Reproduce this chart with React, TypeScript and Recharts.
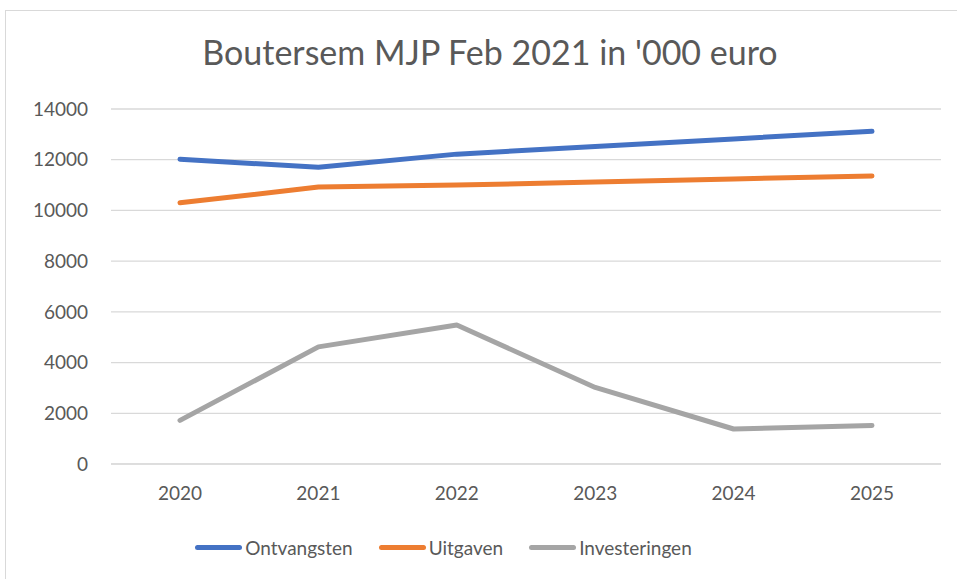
import React from "react";
import { LineChart, Line, XAxis, YAxis, CartesianGrid } from "recharts";

const years = ["2020", "2021", "2022", "2023", "2024", "2025"];
const ontvangsten = [12020, 11700, 12220, 12520, 12820, 13120];
const uitgaven = [10300, 10920, 11000, 11120, 11240, 11360];
const investeringen = [1720, 4620, 5480, 3020, 1380, 1520];
const yTicks = [0, 2000, 4000, 6000, 8000, 10000, 12000, 14000];
const title = "Boutersem MJP Feb 2021 in '000 euro";

const series = [
  { key: "Ontvangsten", values: ontvangsten, color: "#4472C4" },
  { key: "Uitgaven", values: uitgaven, color: "#ED7D31" },
  { key: "Investeringen", values: investeringen, color: "#A5A5A5" },
];

const data = years.map((y, i) => {
  const row: Record<string, any> = { year: y };
  series.forEach((s) => (row[s.key] = s.values[i]));
  return row;
});

const FONT = "Lato, 'Open Sans', sans-serif";

export default function App() {
  return (
    <div style={{ position: "absolute", left: 0, top: 0, width: 957, height: 579, background: "#fff", overflow: "hidden" }}>
      <div style={{ position: "absolute", left: 5, top: 10, width: 960, height: 600, border: "1px solid #D9D9D9", boxSizing: "border-box" }} />
      <div style={{ position: "absolute", left: 0, top: 31, width: 980, textAlign: "center", fontFamily: FONT, fontSize: 34, color: "#595959" }}>
        {title}
      </div>
      <div style={{ position: "absolute", left: 0, top: 0 }}>
        <LineChart width={957} height={579} data={data} margin={{ top: 109, right: 16, left: 0, bottom: 85 }}>
          <CartesianGrid vertical={false} stroke="#D9D9D9" strokeWidth={1.3} />
          <XAxis
            dataKey="year"
            height={30}
            padding={{ left: 69, right: 69 }}
            axisLine={{ stroke: "#D9D9D9" }}
            tickLine={false}
            tickSize={0}
            tickMargin={23}
            tick={{ fill: "#595959", fontSize: 19, fontFamily: FONT }}
          />
          <YAxis
            width={111}
            domain={[0, 14000]}
            ticks={yTicks}
            interval={0}
            axisLine={false}
            tickLine={false}
            tickSize={0}
            tickMargin={23}
            tick={{ fill: "#595959", fontSize: 19, fontFamily: FONT }}
          />
          {series.map((s) => (
            <Line
              key={s.key}
              dataKey={s.key}
              stroke={s.color}
              strokeWidth={5}
              strokeLinecap="round"
              strokeLinejoin="round"
              dot={false}
              activeDot={false}
              isAnimationActive={false}
            />
          ))}
        </LineChart>
      </div>
      <div style={{ position: "absolute", left: 0, top: 536, width: 887, display: "flex", justifyContent: "center", alignItems: "center", fontFamily: FONT, fontSize: 19, color: "#595959" }}>
        {series.map((s, i) => (
          <div key={s.key} style={{ display: "flex", alignItems: "center", marginLeft: i === 0 ? 0 : 26 }}>
            <div style={{ width: 47, height: 5, borderRadius: 3, background: s.color, marginRight: 3 }} />
            <span>{s.key}</span>
          </div>
        ))}
      </div>
    </div>
  );
}
